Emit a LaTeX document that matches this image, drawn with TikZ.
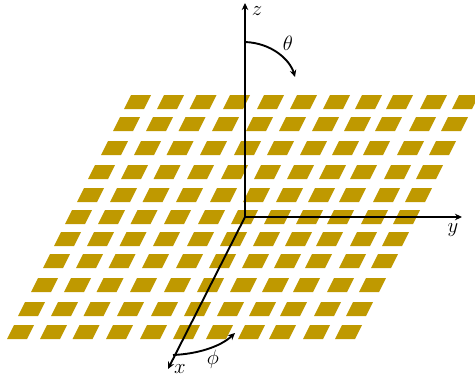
\documentclass[tikz,border=0pt]{standalone}
\usepackage{amsmath}
\usetikzlibrary{arrows.meta}
\definecolor{patchgold}{RGB}{191,153,0}

\begin{document}
\begin{tikzpicture}[
  x=1pt, y=-1pt,
  >={Stealth[length=7pt,width=6.5pt]},
  axis/.style={draw=black, line width=1.9pt, ->},
  patch/.style={fill=patchgold, draw=none},
  axlabel/.style={inner sep=0pt, font=\fontsize{20.74}{23}\selectfont}
]
  \useasboundingbox (0,0) rectangle (475,380);

  % Fila de parches: izquierda inferior y base de cada fila
  \foreach \rowx/\rowy in {124/109, 113/131, 101/155, 88/179, 77/202, 65/224, 54/246, 43/268, 31/292, 18/316, 7/339} {
    \foreach \colx in {0,33,65.5,99,133,166,199,231,262,296,328} {
      \fill[patch] (\rowx+\colx,\rowy) -- ++(20,0) -- ++(7,-14) -- ++(-20,0) -- cycle;
    }
  }

  % Ejes
  \coordinate (origin) at (245,217);
  \coordinate (ztip) at (245,3);
  \coordinate (ytip) at (462,217);
  \coordinate (xtip) at (168,369);
  \draw[axis] (origin) -- (ztip);
  \draw[axis] (origin) -- (ytip);
  \draw[axis] (origin) -- (xtip);

  % Arcos de angulos
  \coordinate (thetastart) at (245,42);
  \coordinate (thetaend) at (295,77);
  \coordinate (phistart) at (173,355);
  \coordinate (phiend) at (235,333);
  \draw[axis] (thetastart) .. controls (272,43) and (290,60) .. (thetaend);
  \draw[axis] (phistart) .. controls (197,354) and (220,347) .. (phiend);

  % Etiquetas
  \node[axlabel] (zlabel) at (257,11) {$z$};
  \node[axlabel] (ylabel) at (453,230) {$y$};
  \node[axlabel] (xlabel) at (180,369) {$x$};
  \node[axlabel] (thetalabel) at (288,43) {$\theta$};
  \node[axlabel] (philabel) at (213,359) {$\phi$};
\end{tikzpicture}
\end{document}
